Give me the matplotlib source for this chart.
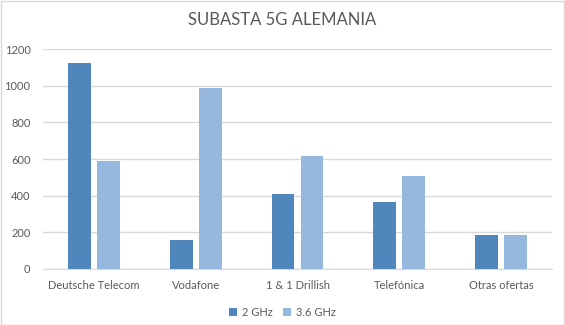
import matplotlib
matplotlib.use("Agg")
import matplotlib.pyplot as plt
import numpy as np
from matplotlib.patches import Rectangle

categories = ["Deutsche Telecom", "Vodafone", "1 & 1 Drillish", "Telefónica", "Otras ofertas"]
ghz2 = [1125, 155, 410, 365, 185]
ghz36 = [590, 990, 615, 505, 185]
series_names = ["2 GHz", "3.6 GHz"]
yticks = [0, 200, 400, 600, 800, 1000, 1200]

plt.rcParams['font.family'] = ['Lato', 'DejaVu Sans']
txt = '#595959'
grid = '#d9d9d9'
c1 = '#4F87BD'
c2 = '#96B8DE'

fig = plt.figure(figsize=(5.65, 3.25), dpi=100)
fig.patches.append(Rectangle((0.001, 0.001), 0.997, 0.997, transform=fig.transFigure,
                             fill=False, edgecolor='#d9d9d9', linewidth=1))
ax = fig.add_axes([43/565, 1-268.7/325, (552-43)/565, (268.7-49.3)/325])

x = np.arange(len(categories))
w = 0.225
gap = 0.03
b1 = ax.bar(x - w/2 - gap, ghz2, width=w, color=c1, label=series_names[0], zorder=3)
b2 = ax.bar(x + w/2 + gap, ghz36, width=w, color=c2, label=series_names[1], zorder=3)

ax.set_xlim(-0.5, len(categories) - 0.5)
ax.set_ylim(0, 1200)
ax.set_yticks(yticks)
ax.set_yticklabels([str(t) for t in yticks])
ax.set_xticks(x)
ax.set_xticklabels(categories)
ax.tick_params(axis='both', length=0, labelsize=8, colors=txt)
ax.tick_params(axis='y', pad=9)
ax.tick_params(axis='x', pad=8)
ax.grid(axis='y', color=grid, linewidth=1, zorder=0)
for s in ['top', 'right', 'left']:
    ax.spines[s].set_visible(False)
ax.spines['bottom'].set_color(grid)

fig.text(0.5, 1-20/325, "SUBASTA 5G ALEMANIA", ha='center', va='center', fontsize=12, color=txt)
fig.legend(handles=[b1, b2], loc='center', bbox_to_anchor=(0.5, 1-312/325), ncol=2, frameon=False,
           fontsize=8, labelcolor=txt, handlelength=0.7, handleheight=0.7, handletextpad=0.4,
           columnspacing=1.0)

fig.savefig("out.png", dpi=100)
